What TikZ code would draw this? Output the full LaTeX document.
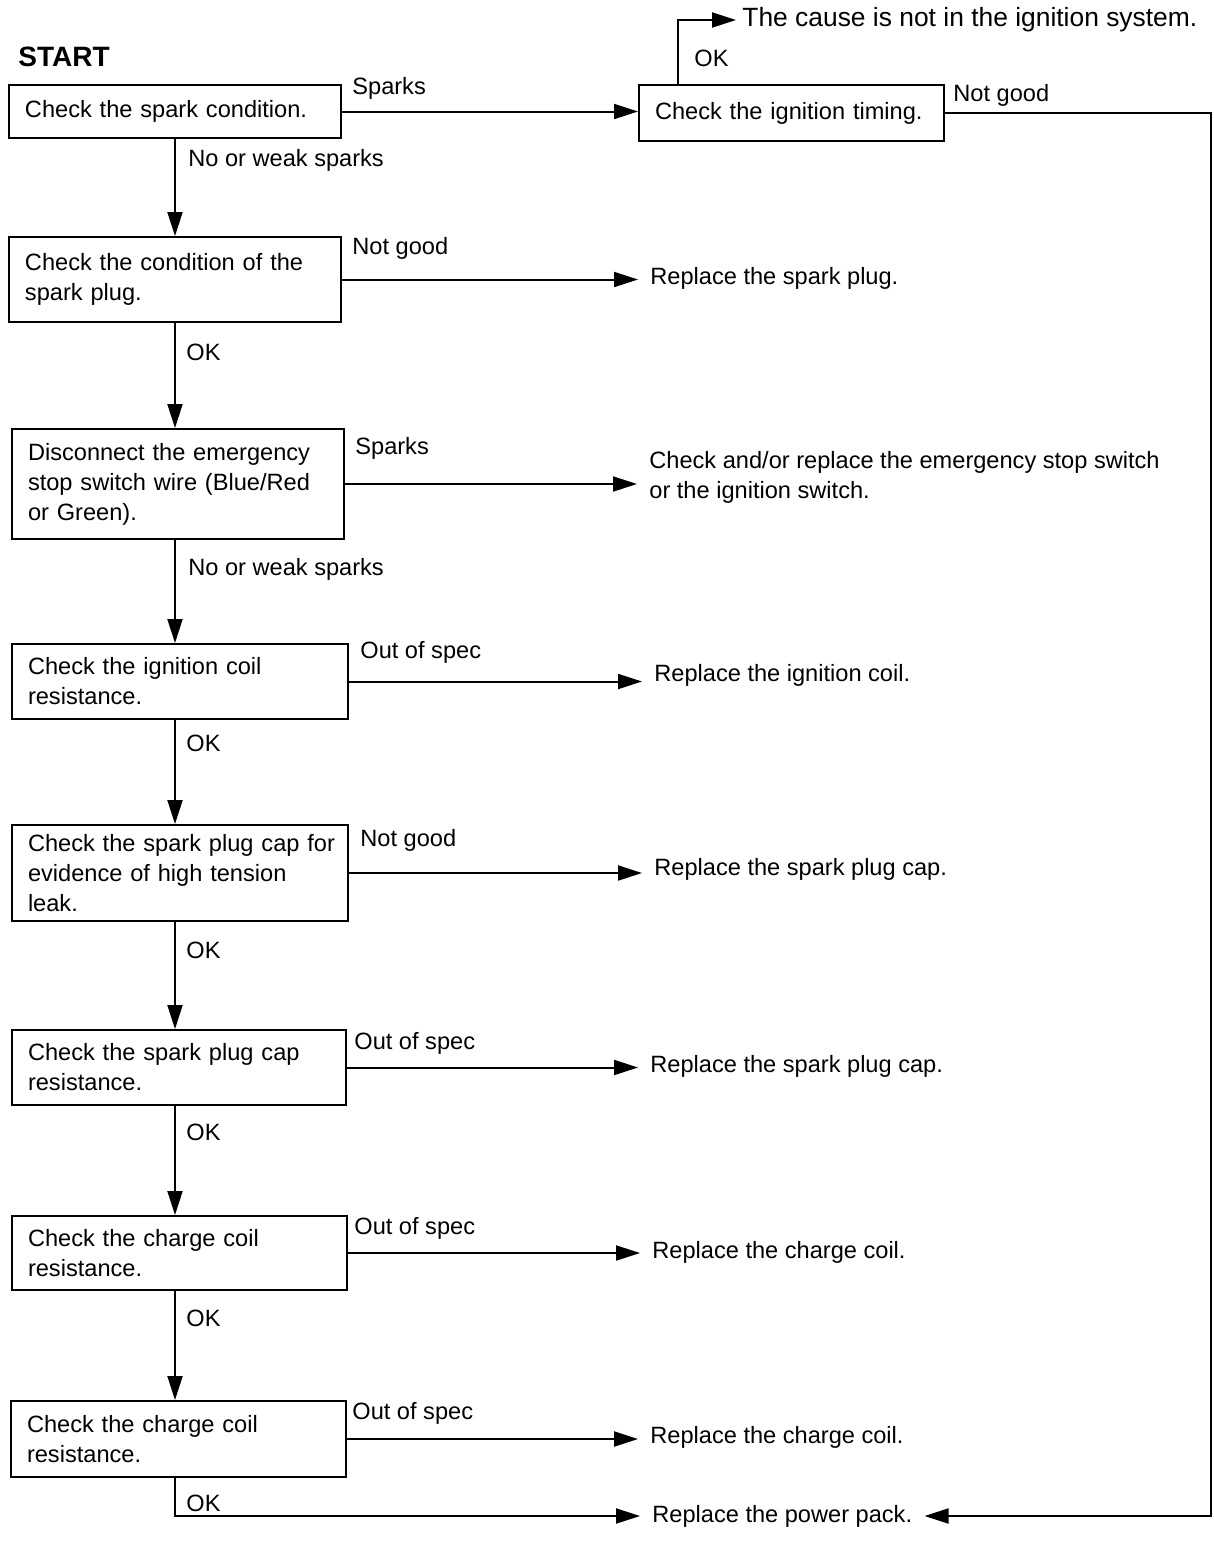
\documentclass[tikz,border=0pt]{standalone}
\usepackage{fontspec}
\setmainfont{Liberation Sans}
\usetikzlibrary{arrows.meta, positioning, calc}

\begin{document}
\begin{tikzpicture}[x=0.5pt, y=-0.5pt, >={Triangle[length=12pt, width=7.5pt]},
      font=\fontsize{11.8}{15}\selectfont,
      box/.style={draw, line width=1pt, anchor=north west, align=left,
                  inner xsep=8pt, inner ysep=0pt, text width=#1},
      lbl/.style={anchor=west, inner sep=0pt},
      res/.style={anchor=west, align=left, inner xsep=6pt, inner ysep=0pt},
      ar/.style={->, line width=1pt}]
    \useasboundingbox (0,0) rectangle (1214,1554);
    \coordinate (spine) at (175,0);
    \coordinate (okx) at (678,0);
    \coordinate (rx) at (1211,0);
    \node[font=\bfseries\fontsize{14}{16}\selectfont, lbl] (start) at (18,57) {START};
    % left column
    \node[box=150pt, minimum height=26.5pt] (b1) at (8,84) {Check the spark condition.};
    \node[box=136.5pt, minimum height=28pt] (b2) at (638,84) {Check the ignition timing.};
    \node[box=150pt, minimum height=42.5pt] (b3) at (8,236) {Check the condition of the\\spark plug.};
    \node[box=150pt, minimum height=55pt] (b4) at (11,428) {Disconnect the emergency\\stop switch wire (Blue/Red\\or Green).};
    \node[box=152pt, minimum height=37.5pt] (b5) at (11,643) {Check the ignition coil\\resistance.};
    \node[box=152pt, minimum height=48pt] (b6) at (11,824) {\mbox{Check the spark plug cap for}\\evidence of high tension\\leak.};
    \node[box=151pt, minimum height=37.5pt] (b7) at (11,1029) {Check the spark plug cap\\resistance.};
    \node[box=151.5pt, minimum height=37pt] (b8) at (11,1215) {Check the charge coil\\resistance.};
    \node[box=151.5pt, minimum height=38pt] (b9) at (10,1400) {Check the charge coil\\resistance.};
    % results
    \node[res, inner xsep=3pt, font=\fontsize{13.2}{16}\selectfont] (top) at (736,20) {The cause is not in the ignition system.};
    \node[res] (r3) at (638,278) {Replace the spark plug.};
    \node[res] (r4) at (637,477) {Check and/or replace the emergency stop switch\\or the ignition switch.};
    \node[res] (r5) at (642,675) {Replace the ignition coil.};
    \node[res] (r6) at (642,869) {Replace the spark plug cap.};
    \node[res] (r7) at (638,1066) {Replace the spark plug cap.};
    \node[res] (r8) at (640,1252) {Replace the charge coil.};
    \node[res] (r9) at (638,1437) {Replace the charge coil.};
    \node[res] (rp) at (640,1516) {Replace the power pack.};
    % branch labels
    \foreach \x/\y/\t [count=\k] in {352/88/Sparks, 694/58/OK, 953/95/Not good,
        188/160/No or weak sparks, 352/248/Not good, 186/352/OK, 355/448/Sparks,
        188/569/No or weak sparks, 360/652/Out of spec, 186/743/OK, 360/840/Not good,
        186/950/OK, 354/1043/Out of spec, 186/1132/OK, 354/1228/Out of spec,
        186/1318/OK, 352/1413/Out of spec, 186/1503/OK}{
      \node[lbl] (lab\k) at (\x,\y) {\t};}
    % connectors
    \draw[ar] (b1.east) -- (b1.east -| b2.west);
    \draw[ar] (b2.north -| okx) |- (top.west);
    \draw[ar] (b2.east) -| (rp.east -| rx) -- (rp.east);
    \foreach \a/\b in {b1/b3, b3/b4, b4/b5, b5/b6, b6/b7, b7/b8, b8/b9}{
      \draw[ar] (\a.south -| spine) -- (\b.north -| spine);}
    \foreach \a/\b in {b3/r3, b4/r4, b5/r5, b6/r6, b7/r7, b8/r8, b9/r9}{
      \draw[ar] (\a.east) -- (\a.east -| \b.west);}
    \draw[ar] (b9.south -| spine) |- (rp.west);
  \end{tikzpicture}
\end{document}
